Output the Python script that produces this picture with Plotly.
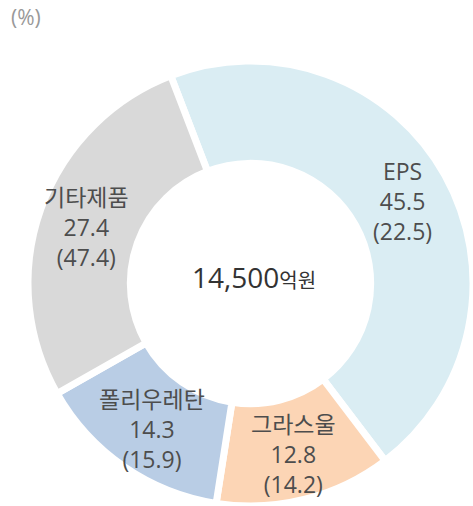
import math
import plotly.graph_objects as go

categories = ["EPS", "그라스울", "폴리우레탄", "기타제품"]
shares = [45.5, 12.8, 14.3, 27.4]
prev_shares = [22.5, 14.2, 15.9, 47.4]
colors = ["#daedf3", "#fcd5b5", "#b9cde5", "#d9d9d9"]
total_label = "14,500"
total_unit = "억원"
unit_note = "(%)"

W, H = 473, 506
FONT = "Open Sans, Noto Sans CJK KR"
ROTATION = -21
DOM_X = [28 / W, 1.0]
DOM_Y = [0.0, 445 / H]

fig = go.Figure(go.Pie(
    labels=categories,
    values=shares,
    textinfo="none",
    marker=dict(colors=colors, line=dict(color="white", width=7)),
    hole=0.54,
    sort=False,
    direction="clockwise",
    rotation=ROTATION,
    hoverinfo="label+value",
    domain=dict(x=DOM_X, y=DOM_Y),
    showlegend=False,
))

# label placement along each slice's mid-angle, inside the ring
cx = (DOM_X[0] + DOM_X[1]) / 2 * W
cy_from_bottom = (DOM_Y[0] + DOM_Y[1]) / 2 * H
label_r = 174
total = sum(shares)
cum = 0.0
for c, v, p in zip(categories, shares, prev_shares):
    mid = ROTATION + (cum + v / 2) / total * 360
    cum += v
    a = math.radians(mid)
    px = cx + label_r * math.sin(a)
    py = cy_from_bottom + label_r * math.cos(a) - 2
    fig.add_annotation(
        x=px / W, y=py / H, xref="paper", yref="paper",
        text=f"{c}<br>{v}<br>({p})", showarrow=False,
        xanchor="center", yanchor="middle", align="center",
        font=dict(family=FONT, size=23, color="#4d4d4d"),
    )

fig.add_annotation(
    x=254 / W, y=(H - 277) / H, xref="paper", yref="paper",
    text=f"{total_label}<span style='font-size:20px'>{total_unit}</span>",
    showarrow=False, xanchor="center", yanchor="middle",
    font=dict(family=FONT, size=28, color="#333333"),
)
fig.add_annotation(
    x=9 / W, y=1 - 1 / H, xref="paper", yref="paper",
    text=unit_note, showarrow=False, xanchor="left", yanchor="top",
    font=dict(family=FONT, size=21, color="#999999"),
)

fig.update_layout(
    width=W, height=H,
    margin=dict(l=0, r=0, t=0, b=0),
    paper_bgcolor="white", plot_bgcolor="white",
    font=dict(family=FONT),
)

fig.write_html(
    "out.html",
    config={"displayModeBar": False},
    post_script="document.body.style.margin='0';document.body.style.overflow='hidden';",
)
